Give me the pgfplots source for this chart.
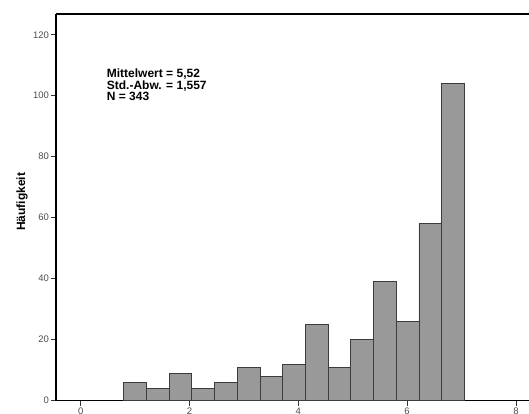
\documentclass[border=0pt]{standalone}
\usepackage{pgfplots}
\pgfplotsset{compat=1.18}
\usepackage{fontspec}
\setmainfont{Liberation Sans}
\definecolor{barfill}{RGB}{153,153,153}
\definecolor{baredge}{RGB}{60,60,60}
\begin{document}
\begin{tikzpicture}
\begin{axis}[name=ax, scale only axis, width=473pt, height=386.7pt,
  xmin=-0.454, xmax=8.24, ymin=0, ymax=126.8,
  axis x line*=box, axis y line*=left,
  axis line style={line width=1.4pt, black, -},
  xtick={0,2,4,6,8}, ytick={0,20,...,120},
  tick pos=left, tick align=outside, major tick length=5pt,
  tick style={black!80, line width=0.7pt},
  /pgf/number format/assume math mode=true,
  tick label style={font=\fontsize{9.5}{10}\selectfont, text=black!70},
  yticklabel style={xshift=1.5pt},
  xticklabel style={yshift=1pt},
  ylabel={\bfseries Häufigkeit},
  ylabel style={font=\fontsize{12}{12}\selectfont, at={(axis description cs:-0.0719,0.514)}, anchor=center},
  clip=false]
\addplot[ybar interval, fill=barfill, draw=baredge, line width=0.8pt] coordinates {
  (0.790,6) (1.208,4) (1.625,9) (2.043,4) (2.460,6) (2.878,11) (3.295,8)
  (3.713,12) (4.130,25) (4.548,11) (4.965,20) (5.383,39) (5.800,26)
  (6.218,58) (6.635,104) (7.053,0)};
\node[anchor=north west, inner sep=0pt, align=left, font=\fontsize{12}{9}\selectfont\bfseries]
  at (axis cs:0.478,108.8) {Mittelwert = 5,52\\Std.-Abw. = 1,557\\N = 343};
\end{axis}
\pgfresetboundingbox
\path[use as bounding box] ([xshift=-56pt,yshift=-13.3pt]ax.south west) rectangle ([yshift=14pt]ax.north east);
\end{tikzpicture}
\end{document}
